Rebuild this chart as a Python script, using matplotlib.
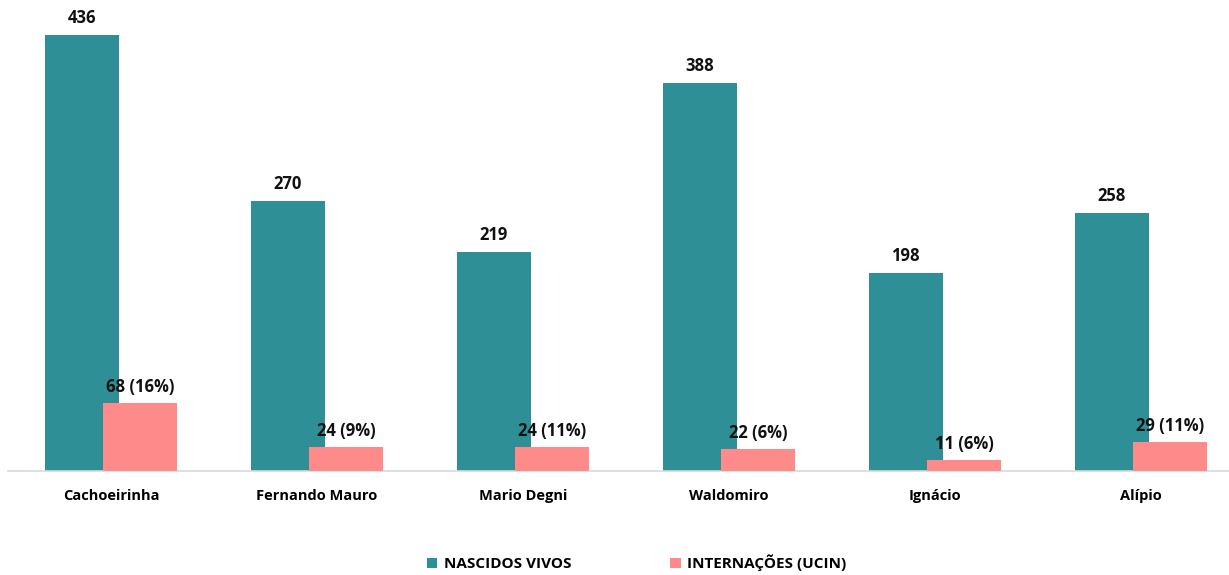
import matplotlib.pyplot as plt
import numpy as np

# data
bairros = ["Cachoeirinha", "Fernando Mauro", "Mario Degni", "Waldomiro", "Ignácio", "Alípio"]
nascidos = [436, 270, 219, 388, 198, 258]
internacoes = [68, 24, 24, 22, 11, 29]
percentuais = [16, 9, 11, 6, 6, 11]

teal = "#2E8F97"
pink = "#FF8A8A"
plt.rcParams["font.family"] = ["Open Sans", "DejaVu Sans"]

fig = plt.figure(figsize=(12.29, 5.75), dpi=100)
ax = fig.add_axes([8 / 1229, 1 - 471 / 575, 1 - 8 / 1229, 471 / 575])

x = np.arange(len(bairros))
w = 0.36
off = 0.142
b1 = ax.bar(x - off, nascidos, w, color=teal, label="NASCIDOS VIVOS", zorder=2)
b2 = ax.bar(x + off, internacoes, w, color=pink, label="INTERNAÇÕES (UCIN)", zorder=3)

for xi, v in zip(x, nascidos):
    ax.text(xi - off, v + 8, str(v), ha="center", va="bottom",
            fontsize=12, fontweight="bold", color="#111111")
for xi, v, p in zip(x, internacoes, percentuais):
    ax.text(xi + off, v + 7, f"{v} ({p}%)", ha="center", va="bottom",
            fontsize=12, fontweight="bold", color="#111111", zorder=4)

ax.set_xlim(-0.5, len(bairros) - 0.5 - 15 / 206)
ax.set_ylim(0, 471)
ax.set_xticks(x)
ax.set_xticklabels(bairros, fontsize=10.5, fontweight="bold")
ax.tick_params(axis="x", length=0, pad=13)
ax.set_yticks([])
for s in ["top", "right", "left"]:
    ax.spines[s].set_visible(False)
ax.spines["bottom"].set_color("#D9D9D9")
ax.spines["bottom"].set_linewidth(1.2)

fig.legend(handles=[b1, b2], loc="center", bbox_to_anchor=(0.518, 1 - 563 / 575),
           ncol=2, frameon=False, prop={"weight": "bold", "size": 11},
           handlelength=0.7, handleheight=0.7, handletextpad=0.4, columnspacing=6.5)

fig.savefig("out.png", dpi=100)
